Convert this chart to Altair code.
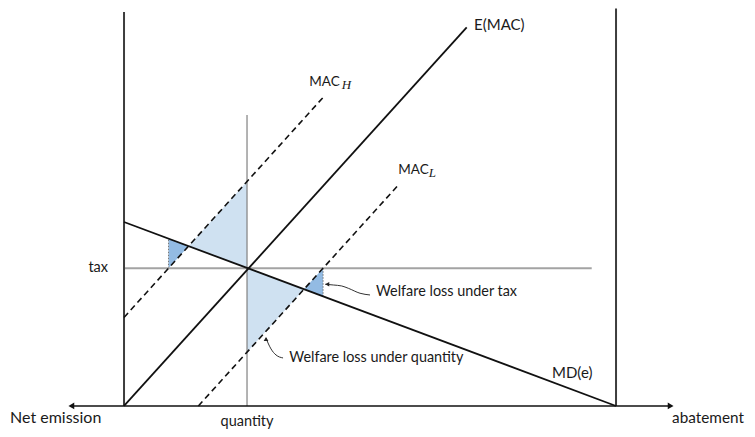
import altair as alt
import pandas as pd

# ---------------- values (data units) ----------------
# x: abatement, 0 at the left box edge, 100 at the right box edge
# y: price, 0 on the horizontal axis
X_DOMAIN = [-23.58, 126.62]
Y_DOMAIN = [-4.68, 80.89]

emac_x = [0.0, 69.65]
emac_y = [0.0, 76.97]
md_x = [0.0, 100.0]
md_y = [37.4, 0.0]
mach_x = [0.0, 40.85]
mach_y = [18.0, 63.14]
macl_x = [15.11, 56.0]
macl_y = [0.0, 45.18]

tax = 28.0
tax_x = [0.0, 95.06]
quantity = 25.0
quantity_y = [0.0, 59.15]

left_box_x = 0.0
left_box_y = [0.0, 80.08]
right_box_x = 100.0
right_box_y = [0.0, 80.8]
axis_x = [-10.7, 111.1]

# shaded regions: x, upper y, lower y
cross_region = ["A", "A", "B", "B"]
cross_x = [13.12, 25.0, 25.0, 36.58]
cross_top = [32.49, 45.63, 28.05, 23.72]
cross_bot = [32.49, 28.05, 10.93, 23.72]

stripe_region = ["C", "C", "D", "D"]
stripe_x = [9.05, 13.12, 36.58, 40.45]
stripe_top = [34.02, 32.49, 23.72, 28.0]
stripe_bot = [28.0, 32.49, 23.72, 22.27]

# thin dotted edges of the small triangles
dot_x = [9.05, 40.45]
dot_y = [28.0, 28.0]
dot_y2 = [34.02, 22.27]

# annotation arrows
tax_arrow_x = [50.0, 47.97, 45.59, 44.25, 42.54, 40.9]
tax_arrow_y = [22.56, 22.91, 23.92, 24.39, 24.59, 24.74]
qty_arrow_x = [32.32, 30.89, 29.88, 29.27, 28.86]
qty_arrow_y = [9.76, 10.37, 11.59, 12.80, 13.82]

# labels
lab_left_text = ["E(MAC)", "MAC", "MAC", "Net emission", "abatement", "MD(e)",
                 "Welfare loss under tax", "Welfare loss under quantity"]
lab_left_x = [71.14, 37.66, 55.75, -23.17, 111.4, 86.99, 51.22, 33.6]
lab_left_y = [77.44, 65.91, 47.97, -2.44, -2.44, 6.71, 23.11, 9.7]
lab_left_size = [15, 13.5, 13.5, 16, 15.3, 15, 14.4, 14.4]

sub_text = ["H", "L"]
sub_x = [44.27, 61.95]
sub_y = [65.24, 47.3]

tax_label_x = -3.25
quantity_label_y = -3.25

# ---------------- chart ----------------
xs = alt.Scale(domain=X_DOMAIN, nice=False, zero=False)
ys = alt.Scale(domain=Y_DOMAIN, nice=False, zero=False)
X = lambda f="x": alt.X(f"{f}:Q", scale=xs, axis=None)
Y = lambda f="y": alt.Y(f"{f}:Q", scale=ys, axis=None)


def seg_chart(df, color, width, dash=None):
    kw = dict(color=color, strokeWidth=width)
    if dash:
        kw["strokeDash"] = dash
    return alt.Chart(df).mark_rule(**kw).encode(
        x=X("x"), y=Y("y"), x2="x2:Q", y2="y2:Q")


def seg(xa, ya):
    return pd.DataFrame({"x": [xa[0]], "x2": [xa[1]], "y": [ya[0]], "y2": [ya[1]]})


cross_df = pd.DataFrame({"r": cross_region, "x": cross_x, "y": cross_top, "y2": cross_bot})
stripe_df = pd.DataFrame({"r": stripe_region, "x": stripe_x, "y": stripe_top, "y2": stripe_bot})

cross = alt.Chart(cross_df).mark_area(color="#cfe1f1", opacity=1).encode(
    x=X(), y=Y(), y2="y2:Q", detail="r:N")
stripes = alt.Chart(stripe_df).mark_area(color="#93bbe3", opacity=1).encode(
    x=X(), y=Y(), y2="y2:Q", detail="r:N")

dots = alt.Chart(pd.DataFrame({"x": dot_x, "y": dot_y, "y2": dot_y2})).mark_rule(
    color="#777777", strokeWidth=1, strokeDash=[1.5, 1.5]).encode(x=X(), y=Y(), y2="y2:Q")

tax_line = seg_chart(seg(tax_x, [tax, tax]), "#a3a3a3", 2)
qty_line = seg_chart(seg([quantity, quantity], quantity_y), "#808080", 1.2)
left_box = seg_chart(seg([left_box_x, left_box_x], left_box_y), "#3d3d3d", 2)
right_box = seg_chart(seg([right_box_x, right_box_x], right_box_y), "#3d3d3d", 2)
h_axis = seg_chart(seg(axis_x, [0, 0]), "#111111", 1.6)

emac = seg_chart(seg(emac_x, emac_y), "#111111", 1.8)
md = seg_chart(seg(md_x, md_y), "#111111", 1.8)
mach = seg_chart(seg(mach_x, mach_y), "#111111", 1.6, [6, 4])
macl = seg_chart(seg(macl_x, macl_y), "#111111", 1.6, [6, 4])

heads = alt.Chart(pd.DataFrame({"x": axis_x, "y": [0, 0],
                                "s": ["triangle-left", "triangle-right"]})).mark_point(
    filled=True, color="#111111", size=45, opacity=1).encode(
    x=X(), y=Y(), shape=alt.Shape("s:N", scale=None, legend=None))

tax_arrow = alt.Chart(pd.DataFrame({"x": tax_arrow_x, "y": tax_arrow_y})).mark_line(
    color="#333333", strokeWidth=1, interpolate="monotone").encode(x=X(), y=Y())
qty_arrow = alt.Chart(pd.DataFrame({"x": qty_arrow_x, "y": qty_arrow_y})).mark_line(
    color="#333333", strokeWidth=1, interpolate="monotone").encode(x=X(), y=Y())
arrow_heads = alt.Chart(pd.DataFrame({
    "x": [tax_arrow_x[-1] + 0.4, qty_arrow_x[-1]],
    "y": [tax_arrow_y[-1], qty_arrow_y[-1] - 0.2],
    "s": ["triangle-left", "triangle-up"]})).mark_point(
    filled=True, color="#222222", size=22, opacity=1).encode(
    x=X(), y=Y(), shape=alt.Shape("s:N", scale=None, legend=None))

labels_left = alt.Chart(pd.DataFrame({"t": lab_left_text, "x": lab_left_x, "y": lab_left_y,
                                      "s": lab_left_size})).mark_text(
    align="left", baseline="middle", font="Lato", color="#1a1a1a").encode(
    x=X(), y=Y(), text="t:N", size=alt.Size("s:Q", scale=None, legend=None))

subs = alt.Chart(pd.DataFrame({"t": sub_text, "x": sub_x, "y": sub_y})).mark_text(
    align="left", baseline="middle", font="Liberation Serif", fontStyle="italic",
    fontSize=13, color="#1a1a1a").encode(x=X(), y=Y(), text="t:N")

tax_label = alt.Chart(pd.DataFrame({"t": ["tax"], "x": [tax_label_x], "y": [tax]})).mark_text(
    align="right", baseline="middle", font="Lato", fontSize=14.5, color="#1a1a1a").encode(
    x=X(), y=Y(), text="t:N")
qty_label = alt.Chart(pd.DataFrame({"t": ["quantity"], "x": [quantity],
                                    "y": [quantity_label_y]})).mark_text(
    align="center", baseline="middle", font="Lato", fontSize=14.5, color="#1a1a1a").encode(
    x=X(), y=Y(), text="t:N")

chart = alt.layer(
    cross, stripes, dots, tax_line, qty_line, left_box, right_box, h_axis,
    emac, md, mach, macl, heads, tax_arrow, qty_arrow, arrow_heads,
    labels_left, subs, tax_label, qty_label,
).properties(
    width=739, height=421,
    autosize=alt.AutoSizeParams(type="none"), padding=0,
).configure_view(stroke=None)

chart.save("out.html", embed_options={"renderer": "svg", "actions": False})
